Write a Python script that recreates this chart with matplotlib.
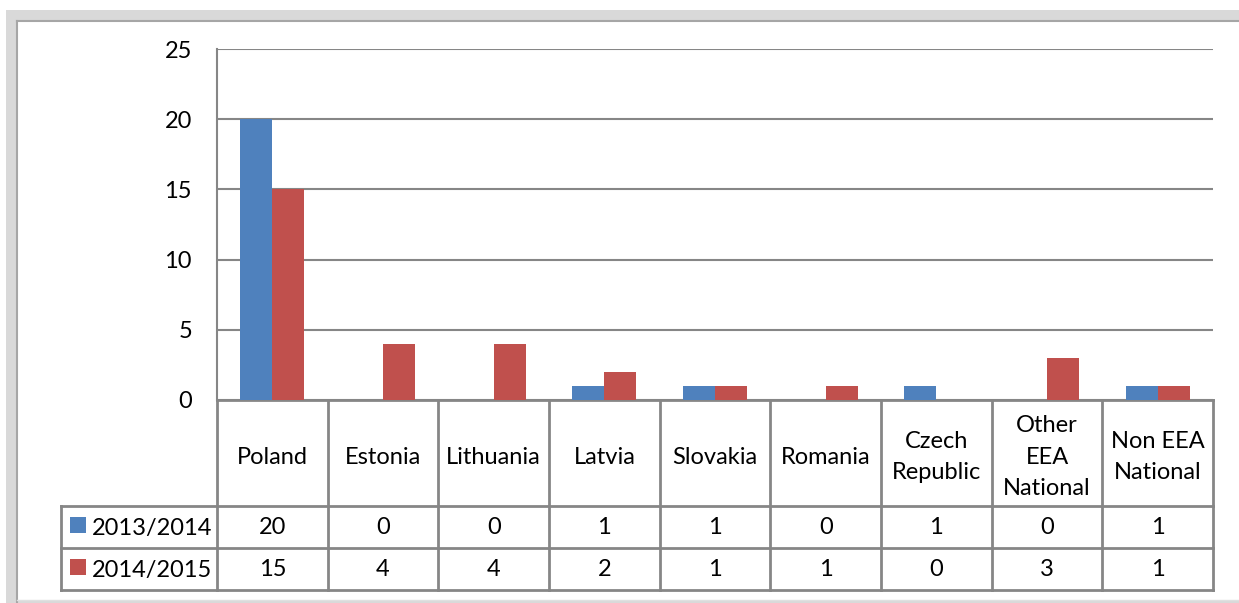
import matplotlib
matplotlib.use("Agg")
import matplotlib.pyplot as plt
from matplotlib.patches import Rectangle
from matplotlib.lines import Line2D

categories = ["Poland", "Estonia", "Lithuania", "Latvia", "Slovakia", "Romania",
              "Czech\nRepublic", "Other\nEEA\nNational", "Non EEA\nNational"]
series_names = ["2013/2014", "2014/2015"]
values_2013 = [20, 0, 0, 1, 1, 0, 1, 0, 1]
values_2014 = [15, 4, 4, 2, 1, 1, 0, 3, 1]
yticks = [0, 5, 10, 15, 20, 25]

W, H = 1239, 603
DPI = 100
plt.rcParams['font.family'] = ['Lato', 'DejaVu Sans']
FS = 17
BLUE = "#4F81BD"
RED = "#C0504D"
GRID = "#868686"

fig = plt.figure(figsize=(W / DPI, H / DPI), dpi=DPI)

def fx(px):
    return px / W

def fy(py):
    return 1 - py / H

# outer frame decoration
fig.patches.append(Rectangle((fx(6), fy(H)), fx(W - 6), fy(10) - fy(H), transform=fig.transFigure,
                             facecolor="#D9D9D9", edgecolor="none", zorder=-3))
fig.patches.append(Rectangle((fx(16), fy(600)), fx(W - 16), fy(20) - fy(600), transform=fig.transFigure,
                             facecolor="white", edgecolor="none", zorder=-2))
fig.lines.append(Line2D([fx(17), fx(17)], [fy(21), fy(603)], transform=fig.transFigure, color="#A6A6A6", lw=1.5, zorder=-1))
fig.lines.append(Line2D([fx(17), fx(W)], [fy(21), fy(21)], transform=fig.transFigure, color="#A6A6A6", lw=1.5, zorder=-1))
fig.lines.append(Line2D([fx(17), fx(W)], [fy(600), fy(600)], transform=fig.transFigure, color="#E0E0E0", lw=1.0, zorder=-1))

L, R, T, B = 217, 1213, 49, 400
ax = fig.add_axes([fx(L), fy(B), fx(R) - fx(L), fy(T) - fy(B)])
ax.set_facecolor("none")
ax.set_zorder(1)

n = len(categories)
x = list(range(n))
w = 0.29
ax.bar([i - w / 2 for i in x], values_2013, width=w, color=BLUE, zorder=3)
ax.bar([i + w / 2 for i in x], values_2014, width=w, color=RED, zorder=3)

ax.set_xlim(-0.5, n - 0.5)
ax.set_ylim(0, 25)
ax.set_yticks(yticks)
ax.set_yticklabels([str(v) for v in yticks], fontsize=FS)
ax.set_xticks([])
ax.tick_params(axis='y', length=0, pad=18)
ax.yaxis.grid(True, color=GRID, lw=1.5)
ax.set_axisbelow(True)
for s in ["top", "right"]:
    ax.spines[s].set_visible(False)
ax.spines["left"].set_color(GRID)
ax.spines["left"].set_linewidth(1.5)
ax.spines["bottom"].set_color(GRID)
ax.spines["bottom"].set_linewidth(2)

def ay(py):
    return (B - py) / (B - T)  # axes fraction

header_bottom = 506
row1_bottom = 548
row2_bottom = 590
tc = GRID
tlw = 2
xt = ax.get_xaxis_transform()
for b in [i - 0.5 for i in range(n + 1)]:
    ax.plot([b, b], [ay(B), ay(row2_bottom)], color=tc, lw=tlw, clip_on=False, transform=xt)
left_col = (61 - L) / (R - L) * n - 0.5
for yy in [header_bottom, row1_bottom, row2_bottom]:
    ax.plot([left_col, n - 0.5], [ay(yy), ay(yy)], color=tc, lw=tlw, clip_on=False, transform=xt)
ax.plot([left_col, left_col], [ay(header_bottom), ay(row2_bottom)], color=tc, lw=tlw, clip_on=False,
        transform=xt)

for i, c in enumerate(categories):
    ax.text(i, ay((B + header_bottom) / 2 + 4), c, ha="center", va="center", fontsize=FS,
            linespacing=1.62, transform=xt, clip_on=False)

rows = [(series_names[0], values_2013, BLUE, header_bottom, row1_bottom),
        (series_names[1], values_2014, RED, row1_bottom, row2_bottom)]
for name, vals, col, top, bot in rows:
    yc = ay((top + bot) / 2 + 1)
    for i, v in enumerate(vals):
        ax.text(i, yc, str(v), ha="center", va="center", fontsize=FS, transform=xt, clip_on=False)
    ky = (top + bot) / 2 - 2
    fig.patches.append(Rectangle((fx(70), fy(ky + 8)), fx(16), fy(ky - 8) - fy(ky + 8),
                                 transform=fig.transFigure, facecolor=col, edgecolor="none", zorder=2))
    fig.text(fx(92), fy((top + bot) / 2 + 1), name, ha="left", va="center", fontsize=FS, zorder=2)

fig.savefig("out.png", dpi=DPI)
